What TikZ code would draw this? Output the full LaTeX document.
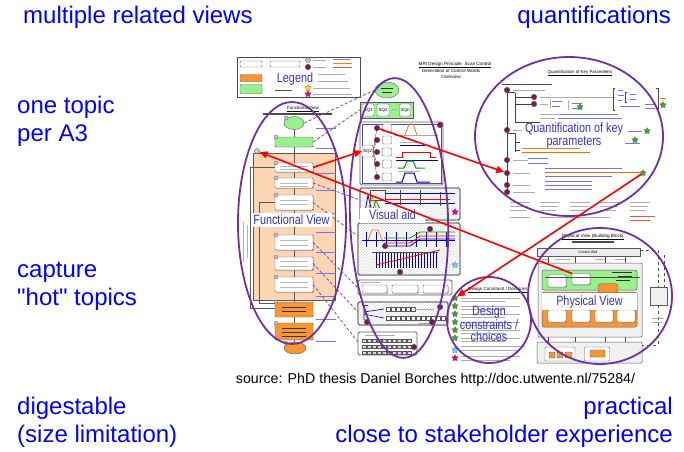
\documentclass[tikz,border=0pt]{standalone}
\usepackage{fontspec}
\setmainfont{Liberation Sans}
\newfontfamily\lblfont[FakeStretch=0.8]{Liberation Sans}
\newfontfamily\qfont[Ligatures=TeXOff]{Liberation Sans}
\usetikzlibrary{arrows.meta,shapes.geometric,patterns,shadows}
\definecolor{txtblue}{RGB}{0,0,255}
\definecolor{lblblue}{RGB}{51,51,204}
\definecolor{ellpurple}{RGB}{112,48,160}
\definecolor{mdcol}{RGB}{128,24,64}
\definecolor{lgreen}{RGB}{153,240,140}
\definecolor{orng}{RGB}{250,150,50}
\definecolor{peach}{RGB}{252,213,180}
\definecolor{dashpurple}{RGB}{90,90,180}
\definecolor{starg}{RGB}{70,160,50}
\definecolor{panelgray}{RGB}{95,95,95}
\begin{document}
\begin{tikzpicture}[x=1pt,y=-1pt,
  bigtext/.style={font=\fontsize{24}{28.5}\selectfont, text=txtblue, inner sep=0pt},
  vlabel/.style={font=\lblfont\fontsize{13.5}{13}\selectfont, text=lblblue, inner sep=1pt},
  tiny/.style={font=\fontsize{4.5}{5}\selectfont, inner sep=0pt},
  panel/.style={draw=panelgray, line width=0.9pt, rounded corners=1.5pt},
  wbox/.style={draw=gray!80!black, line width=0.4pt, rounded corners=1pt, fill=white, inner sep=0pt, outer sep=0pt},
  gbox/.style={draw=gray!70!black, line width=0.4pt, rounded corners=1pt, fill=lgreen, inner sep=0pt},
  obox/.style={draw=gray!70!black, line width=0.4pt, rounded corners=1pt, fill=orng, inner sep=0pt},
  mdot/.style={circle, draw=black!70, line width=0.3pt, fill=mdcol, inner sep=0pt, minimum size=5.5pt},
  badge/.style={circle, draw=gray!80!black, fill=blue!20!gray!40, line width=0.3pt, inner sep=0pt, minimum size=4pt},
  gstar/.style={star, star points=5, star point ratio=1.8, fill=starg, draw=black!60, line width=0.2pt, inner sep=0pt, minimum size=7pt},
  tline/.style={gray!65, line width=0.7pt},
  bline/.style={blue!55, line width=0.6pt},
  ellipseline/.style={draw=ellpurple, line width=1.8pt},
  redarrow/.style={red, line width=1.6pt, -{Triangle[length=8pt,width=7pt]}},
  dashlink/.style={dashpurple, line width=0.8pt, dash pattern=on 3pt off 2pt},
  wshadow/.style={drop shadow={shadow xshift=1pt, shadow yshift=-1pt, opacity=0.5}}
]
\useasboundingbox (0,0) rectangle (684,451);

% ---------------- Legend -----------------
\draw[draw=gray!60!black, line width=0.8pt, fill=white] (237,57) rectangle (360,97);
\node[wbox, minimum width=22pt, minimum height=6pt] (lg1) at (251,64) {};
\node[wbox, minimum width=30pt, minimum height=6pt] (lg2) at (285,64) {};
\node[obox, minimum width=22pt, minimum height=7pt] (lg3) at (251,78) {};
\node[gbox, minimum width=22pt, minimum height=9pt] (lg4) at (251,89) {};
\draw[gray!60!black, line width=0.8pt] (275,90) -- (292,90);
\node[badge, minimum size=5pt] (lg5) at (308,60) {};
\node[mdot] (lg6) at (308,67) {};
\node[gstar, fill=yellow!80!orange] (lg7) at (308,88) {};
\node[gstar, fill=magenta] (lg8) at (308,94) {};
\draw[tline] (313,60) -- (326,60) (313,67) -- (326,67) (318,74) -- (345,74) (318,81) -- (348,81) (313,88) -- (350,88) (313,94) -- (352,94);
\draw[bline] (333,59) -- (350,59);
\draw[orange, line width=0.6pt] (333,63) -- (352,63);
\draw[red!70, line width=0.6pt] (333,67) -- (352,67);

% ---------------- Title -----------------
\node[tiny, font=\fontsize{4.6}{5}\selectfont] (ttl1) at (455,65) {\underline{MRI Design Principle: Scan Control}};
\node[tiny, font=\fontsize{4.6}{5}\selectfont] (ttl2) at (451,71) {Generation of Control Words};
\node[tiny, font=\fontsize{4.6}{5}\selectfont] (ttl3) at (451,77) {Overview};

% ---------------- Functional column -----------------
\node[tiny] (ftitle) at (303,109) {\underline{Functional View}};
\draw[gray!60!black, line width=1.3pt] (263,114) -- (332,114);
\draw[draw=gray!70!black, line width=0.5pt, fill=peach] (253,153) rectangle (335,300);
\draw[gray!70!black, line width=0.5pt] (250,167) -- (275,167) (250,167) -- (250,308) -- (275,308);
\draw[gray!70!black, line width=0.5pt] (275,202) -- (259,202) -- (259,303) -- (275,303);
\draw[gray!60, line width=0.5pt] (243,222) -- (243,262) (247,225) -- (247,258);
\draw[gray!70!black, line width=0.7pt] (294,125) -- (294,343);
\node[draw=gray!70!black, fill=lgreen, ellipse, minimum width=20pt, minimum height=13pt, inner sep=0pt] (fstart) at (294,123) {};
\node[badge] (fsb) at (286,118) {};
\node[gbox, minimum width=38pt, minimum height=10pt] (fpulse) at (294,142) {};
\node[badge] (fpb) at (276,137) {};
\node[circle, draw=gray!70!black, fill=gray!40, minimum size=5pt, inner sep=0pt] (fbadge) at (257,151) {};
\node[wbox, wshadow, minimum width=38pt, minimum height=9pt] (fb1) at (294,167.5) {};
\node[wbox, wshadow, minimum width=38pt, minimum height=10pt] (fb2) at (294,183) {};
\node[wbox, wshadow, minimum width=38pt, minimum height=15pt] (fb3) at (294,202.5) {};
\node[wbox, wshadow, minimum width=38pt, minimum height=15pt] (fb5) at (294,242.5) {};
\node[wbox, wshadow, minimum width=38pt, minimum height=13pt] (fb6) at (294,263.5) {};
\node[wbox, wshadow, minimum width=38pt, minimum height=15pt] (fb7) at (294,284.5) {};
\node[obox, minimum width=38pt, minimum height=15pt] (fo1) at (294,309.5) {};
\node[obox, minimum width=38pt, minimum height=17pt] (fo2) at (294,331.5) {};
\node[draw=gray!70!black, fill=orng, ellipse, minimum width=22pt, minimum height=12pt, inner sep=0pt] (fend) at (295,348) {};
\foreach \yy in {163,178,195,235,257,277,302,323} \node[badge] at (276,\yy) {};
\node[badge] at (286,343) {};
\foreach \yy in {128,148,173,190,213,232,252,273,296,319,341}
  \draw[bline] (316,\yy) -- (336,\yy);
\foreach \yy in {166,169,183,186,200,204,240,245,261,266,282,287}
  \draw[gray!55, line width=0.6pt] (280,\yy) -- (308,\yy);
\foreach \yy in {307,311,328,332,336}
  \draw[gray!40!black, line width=0.5pt] (282,\yy) -- (306,\yy);

% ---------------- Middle column -----------------
\coordinate (mBw) at (360,200);
\coordinate (mCw) at (358,236);
\coordinate (mDw) at (358,288);
\coordinate (mEw) at (358,312);
\coordinate (mFw) at (358,342);
\node[draw=gray!70!black, fill=lgreen, ellipse, minimum width=24pt, minimum height=16pt, inner sep=0pt] (mstart) at (387,90) {};
\draw[gray!40!black, line width=0.5pt] (381,88) -- (393,88) (382,92) -- (392,92);
\node[gbox, rounded corners=0pt, minimum width=53pt, minimum height=16pt] (msq) at (386.5,110) {};
\node[wbox, tiny, minimum width=12pt, minimum height=12pt] (sq1) at (368,110) {SQ1};
\node[wbox, tiny, minimum width=12pt, minimum height=12pt] (sq2) at (383,110) {SQ2};
\node[tiny] (sqd) at (394.5,110) {....};
\node[wbox, tiny, minimum width=11pt, minimum height=12pt] (sqn) at (405,110) {SQn};

\draw[dashlink] (fstart.east) -- (mstart.west);
\draw[dashlink] (fpulse.east) -- (msq.west);
\draw[dashlink] (fb2.east) -- (mBw);
\draw[dashlink] (fb3.east) -- (mCw);
\draw[dashlink] (fb5.east) -- (mDw);
\draw[dashlink] (fb6.east) -- (mEw);
\draw[dashlink] (fb7.east) -- (mFw);

% panel A
\draw[panel, fill=white] (360,122) rectangle (443,185);
\draw[blue!40!gray, line width=0.5pt] (362,124) rectangle (441,183);
\node[wbox, tiny, minimum width=11pt, minimum height=12pt] (sqtwo) at (367.5,151) {SQ2};
\foreach \n/\yy in {1/128,2/140,3/152,4/164,5/177} {
  \draw[gray!60!black, line width=0.4pt] (sqtwo.east) -- (377,\yy) -- (387,\yy);
  \node[wbox, minimum width=9pt, minimum height=8pt] (mAb\n) at (387,\yy) {};
  \node[mdot] (mA\n) at (377,\yy) {};
}
\node[mdot] (mAr) at (440,125) {};
\draw[gray!70, line width=0.5pt] (395,135) -- (438,135);
\draw[orange, line width=0.8pt] (405,135) -- (409,124) -- (413,124) -- (417,135);
\draw[blue!70!black, line width=1pt] (400,145) -- (425,145);
\draw[gray!60, line width=0.4pt] (400,142) -- (420,142);
\draw[red, line width=0.8pt] (396,157) -- (402,157) -- (402,152) -- (430,152) -- (430,157) -- (436,157);
\draw[blue!70!black, line width=0.8pt] (396,160) -- (438,160);
\draw[green!60!black, line width=1pt] (398,168) -- (404,168) -- (407,161) -- (413,161) -- (416,168) -- (425,168);
\draw[blue!70!black, line width=1pt] (396,182) -- (402,182) -- (405,173) -- (414,173) -- (417,182) -- (430,182);
\draw[gray!60, line width=0.4pt] (398,171) -- (420,171);

% panel B
\draw[panel, fill=white] (360,188) rectangle (460,220);
\draw[panel, pattern=north east lines, pattern color=gray!25] (360,188) rectangle (460,220);
\draw[gray!60!black, line width=0.5pt] (370,190) rectangle (385,200);
\draw[blue!70!black, line width=0.8pt] (365,212) -- (368,195) -- (372,212);
\draw[orange, line width=0.8pt] (368,212) -- (372,196) -- (377,212);
\draw[green!60!black, line width=0.8pt] (372,212) -- (376,200) -- (381,212);
\draw[blue!80!black, line width=0.7pt] (385,193) -- (455,193) (385,203) -- (455,203);
\draw[red, line width=0.7pt] (385,199) -- (450,199);
\draw[gray!60!black, line width=0.5pt] (400,190) -- (400,205) (420,190) -- (420,205) (440,192) -- (440,206);
\node[gstar, fill=magenta] (mstarB) at (455,212) {};

% panel C
\draw[panel, fill=white] (358,223) rectangle (460,275);
\draw[panel, pattern=north east lines, pattern color=gray!25] (358,223) rectangle (460,275);
\draw[blue!80!black, line width=0.7pt] (362,240) -- (455,240);
\foreach \xx in {366,376,386,396,406,416,426,436,446} \draw[blue!70!black, line width=0.5pt] (\xx,232) -- (\xx,247);
\draw[orange, line width=0.8pt] (368,240) -- (372,230) -- (378,230) -- (382,240);
\draw[green!60!black, line width=0.8pt] (384,238) -- (410,238) -- (420,232) -- (455,232);
\draw[red, line width=0.8pt] (384,243) -- (410,243) -- (420,236) -- (455,236);
\draw[blue!70!black, line width=0.8pt] (384,246) -- (410,246) -- (420,239) -- (455,239);
\foreach \xx in {376,379,...,436} \draw[blue!75!black, line width=0.5pt] (\xx,253) -- (\xx,268);
\draw[red, line width=0.8pt] (376,265) -- (440,250);
\draw[gray!60!black, line width=0.5pt] (372,252) -- (438,252);
\node[mdot] (mC1) at (385,246) {};
\node[mdot] (mC2) at (430,229) {};
\node[mdot] (mC3) at (400,272) {};
\node[gstar, fill=blue!30!cyan!60] (mstarC) at (455,265) {};

% panel D
\draw[panel, fill=white] (358,280) rectangle (452,295);
\draw[tline] (361,282.5) -- (380,282.5);
\node[wbox, wshadow, minimum width=25pt, minimum height=8pt] (mD1) at (374.5,289) {};
\node[wbox, wshadow, minimum width=26pt, minimum height=8pt] (mD2) at (405,289) {};
\node[wbox, wshadow, minimum width=25pt, minimum height=8pt] (mD3) at (435.5,289) {};

% panel E
\draw[panel, fill=white] (358,302) rectangle (448,325);
\draw[panel, pattern=north east lines, pattern color=gray!25] (358,302) rectangle (448,325);
\draw[red, line width=0.6pt] (362,305) -- (368,305);
\draw[blue!70!black, line width=0.6pt] (364,305) -- (364,320) (364,312) -- (384,309) (364,314) -- (384,318);
\foreach \xx in {386,391,...,411} \draw[gray!70!black, fill=white, line width=0.4pt] (\xx,307) rectangle ++(4,4);
\foreach \xx in {386,391,...,441} \draw[gray!70!black, fill=white, line width=0.4pt] (\xx,316) rectangle ++(4,4);
\draw[tline] (414,309) -- (434,309) (418,323) -- (430,323);
\node[mdot] (mE1) at (440,307) {};
\node[mdot] (mE2) at (367,322) {};
\node[mdot] (mE3) at (432,322) {};

% panel F
\draw[panel, fill=white] (358,332) rectangle (417,355);
\draw[tline] (365,335) -- (395,335);
\foreach \yy in {339,345,351} \foreach \xx in {362,367,...,407} \draw[gray!70!black, fill=gray!30, line width=0.3pt] (\xx,\yy) rectangle ++(4,3.5);
\node[mdot] (mF1) at (414,347) {};

% ---------------- Quantification -----------------
\node[tiny, font=\fontsize{4.4}{5}\selectfont] (qtitle) at (580,73) {\underline{Quantification of Key Parameters}};
\draw[gray!60!black, line width=0.8pt] (502,84) -- (552,84);
\draw[gray!50!black, line width=1pt] (507,90) -- (507,193);
\draw[gray!50!black, line width=0.6pt] (515,93) -- (515,122) (515,97) -- (534,97) (515,104) -- (534,104) (515,122) -- (540,122);
\draw[gray!50!black, line width=0.6pt] (515,133) -- (515,152) (515,142) -- (520,142) (515,150) -- (520,150) (507,133) -- (515,133);
\draw[gray!50!black, line width=0.6pt] (507,92) -- (515,92);
\node[mdot] (qd1) at (507,90) {};
\node[mdot] (qd2) at (507,130) {};
\node[mdot] (qd3) at (507,160) {};
\node[mdot] (qd4) at (507,173) {};
\node[mdot] (qd5) at (507,185) {};
\node[mdot] (qd6) at (507,192) {};
\node[mdot] (qs1) at (534,97) {};
\node[mdot] (qs2) at (534,104) {};
\draw[tline] (513,90) -- (545,90) (540,97) -- (615,97) (540,104) -- (548,104) (513,130) -- (522,130) (513,160) -- (528,160) (513,173) -- (530,173) (513,185) -- (530,185) (513,192) -- (535,192) (540,114) -- (560,114) (540,118) -- (555,118);
\draw[bline] (552,101) -- (562,101) (552,106) -- (560,106) (572,103) -- (582,103) (572,108) -- (580,108) (560,114) -- (618,114) (558,118) -- (622,118);
\draw[gray!60, line width=0.5pt] (550,99) -- (550,108) (568,100) -- (568,110);
\draw[orange, line width=0.6pt] (522,148) -- (580,148);
\draw[orange!80!red, line width=0.6pt] (522,152) -- (590,152);
\draw[bline] (528,158) -- (548,158) (528,163) -- (548,163);
\draw[bline] (545,168) -- (622,168) (545,176) -- (612,176);
\draw[orange!80!red, line width=0.6pt] (545,172) -- (640,172);
\draw[bline] (545,181) -- (592,181) (545,185) -- (592,185) (545,189) -- (592,189);
\draw[gray!60!black, line width=0.5pt] (615,88) -- (613,88) -- (613,110) -- (615,110) (627,92) -- (625,92) -- (625,102) -- (627,102) (656,88) -- (658,88) -- (658,108) -- (656,108);
\draw[bline] (618,90) -- (623,90) (618,95) -- (624,95) (618,100) -- (622,100) (630,94) -- (636,94) (630,99) -- (636,99) (620,106) -- (640,106) (645,104) -- (655,104) (645,108) -- (655,108);
\draw[orange, line width=0.6pt] (660,98) -- (666,98);
\draw[bline] (628,131) -- (642,131) (625,143) -- (640,143);
\node[gstar] (qstar1) at (663,105) {};
\node[gstar] (qstar2) at (580,107) {};
\node[gstar] (qstar3) at (647,131) {};
\node[gstar] (qstar4) at (635,140) {};
\node[gstar] (qstar) at (643,173) {};
\foreach \xx in {510,540,570,600,630} \draw[tline] (\xx,202) -- ++(20,0) (\xx,206) -- ++(18,0) (\xx,210) -- ++(16,0);
\draw[tline] (510,217) -- (530,217) (540,217) -- (610,217);
\draw[red!70, line width=0.6pt] (630,216) -- (655,216) (630,220) -- (650,220);

% ---------------- Physical view -----------------
\node[tiny, font=\fontsize{4.6}{5}\selectfont] (ptitle) at (593,237) {\underline{Physical View (Building Block)}};
\draw[gray!60!black, line width=1.2pt] (572,242) -- (614,242);
\draw[gray!60!black, line width=0.5pt] (548,256) -- (548,345) (575,256) -- (575,345) (605,256) -- (605,345) (625,256) -- (625,345);
\draw[draw=gray!70!black, fill=gray!12, line width=0.5pt, rounded corners=1pt] (538,263) rectangle (642,337);
\draw[draw=gray!70!black, fill=gray!15, line width=0.5pt] (537,248) rectangle (640,256);
\node[tiny, font=\fontsize{3.5}{4}\selectfont] (cwall) at (588,252) {Control Wall};
\draw[tline] (541,259) -- (548,259) (555,259) -- (570,259) (595,259) -- (605,259) (615,259) -- (625,259);
\draw[draw=gray!70!black, fill=lgreen, line width=0.5pt, rounded corners=2pt] (542,270) rectangle (637,290);
\draw[draw=gray!70!black, fill=orng, line width=0.5pt, rounded corners=2pt] (542,292) rectangle (637,327);
\node[wbox, wshadow, minimum width=18pt, minimum height=12pt] (pvb1) at (557,281) {};
\node[wbox, wshadow, minimum width=18pt, minimum height=11pt] (pvbox) at (581,279) {};
\node[draw=gray!70!black, fill=orng, rounded corners=3pt, minimum width=20pt, minimum height=9pt, inner sep=0pt] (pvb3) at (608,288) {};
\draw[gray!60!black, line width=0.5pt] (545,277) -- (640,277);
\draw[tline, gray!40!black] (612,272) -- (632,272) (618,276) -- (632,276) (616,280) -- (630,280);
\foreach \n/\xx in {1/557,2/581,3/604,4/626} \node[wbox, wshadow, minimum width=18pt, minimum height=12pt] (pvo\n) at (\xx,316) {};
\draw[draw=gray!70!black, fill=gray!12, line width=0.5pt, rounded corners=1pt] (537,342) rectangle (642,363);
\node[wbox, minimum width=30pt, minimum height=14pt] (pvl1) at (560,354) {};
\node[wbox, minimum width=25pt, minimum height=14pt] (pvl2) at (597,354) {};
\draw[obox] (549,352) rectangle (555,358) (557,352) rectangle (563,358) (565,352) rectangle (572,358) (590,350) rectangle (605,357);
\draw[draw=gray!70!black, fill=gray!12, line width=0.5pt] (650,287) rectangle (667,305);
\draw[gray!60!black, line width=0.6pt, dashed] (640,250) -- (658,250) -- (658,287) (658,305) -- (658,345) -- (642,345);
\draw[gray!60!black, line width=0.6pt, dashed] (664,255) -- (664,287);
\draw[tline] (652,318) -- (664,318) (652,322) -- (662,322);

% ---------------- Design constraints -----------------
\node[tiny, font=\fontsize{4.5}{5}\selectfont] (dtitle) at (498,290) {\underline{Design Constraint / Decisions}};
\foreach \n/\yy in {1/298,2/306,3/314,4/322,5/330,6/338} {
  \draw[tline] (461,\yy) -- (520,\yy) (461,\yy+3) -- (505,\yy+3);
  \node[gstar] (dstar\n) at (455,\yy) {};
}
\draw[tline] (461,346) -- (525,346) (461,350) -- (520,350) (461,356) -- (520,356) (461,360) -- (510,360);
\node[gstar, fill=blue!30!cyan!60] (dstarb) at (455,350) {};
\node[gstar, fill=magenta] (dstarm) at (455,358) {};

% ---------------- Ellipses -----------------
\draw[ellipseline] (292,223) ellipse [x radius=54, y radius=121];
\draw[ellipseline, rotate around={2:(399,218)}] (399,218) ellipse [x radius=49, y radius=140];
\draw[ellipseline] (569,136.5) ellipse [x radius=94, y radius=79.5];
\draw[ellipseline] (600,296) ellipse [x radius=72, y radius=68];
\draw[ellipseline] (489,320) ellipse [x radius=42, y radius=43];

% ---------------- Labels -----------------
\node[vlabel] (lgd) at (295,79) {Legend};
\node[vlabel, fill=white, minimum width=81pt, minimum height=14pt] (fv) at (291.5,220) {Functional View};
\node[vlabel, fill=white, minimum width=65pt, minimum height=15pt] (va) at (392.5,215) {Visual aid};
\node[vlabel, align=center] (qk) at (574,136) {Quantification of key\\parameters};
\node[vlabel, fill=white, minimum width=95pt, minimum height=17pt] (pv) at (589.5,301.5) {Physical View};
\node[vlabel, align=center, font=\lblfont\fontsize{13.5}{12.5}\selectfont] (dc) at (489,324) {Design\\constraints /\\choices};

% ---------------- Red arrows -----------------
\draw[redarrow] (fb1.east) -- (sqtwo.west);
\draw[redarrow] (mA1) -- (qd4);
\draw[redarrow] (pvbox.north west) -- (fbadge);
\draw[redarrow] (qstar) -- (dstar1);

% ---------------- Slide texts -----------------
\node[bigtext, anchor=west] (t1) at (23,17) {multiple related views};
\node[bigtext, anchor=east] (t2) at (671,17) {quantifications};
\node[bigtext, anchor=west, align=left] (t3) at (17,121.5) {one topic\\per A3};
\node[bigtext, anchor=west, align=left, font=\qfont\fontsize{24}{28.5}\selectfont] (t4) at (17,286) {capture\\"hot" topics};
\node[bigtext, anchor=west, align=left] (t5) at (17,422.5) {digestable\\(size limitation)};
\node[bigtext, anchor=east, align=right] (t6) at (673,422.5) {practical\\close to stakeholder experience};
\node[font=\fontsize{14.2}{16}\selectfont, inner sep=0pt] (src) at (435.5,380) {source: PhD thesis Daniel Borches http://doc.utwente.nl/75284/};
\end{tikzpicture}
\end{document}
